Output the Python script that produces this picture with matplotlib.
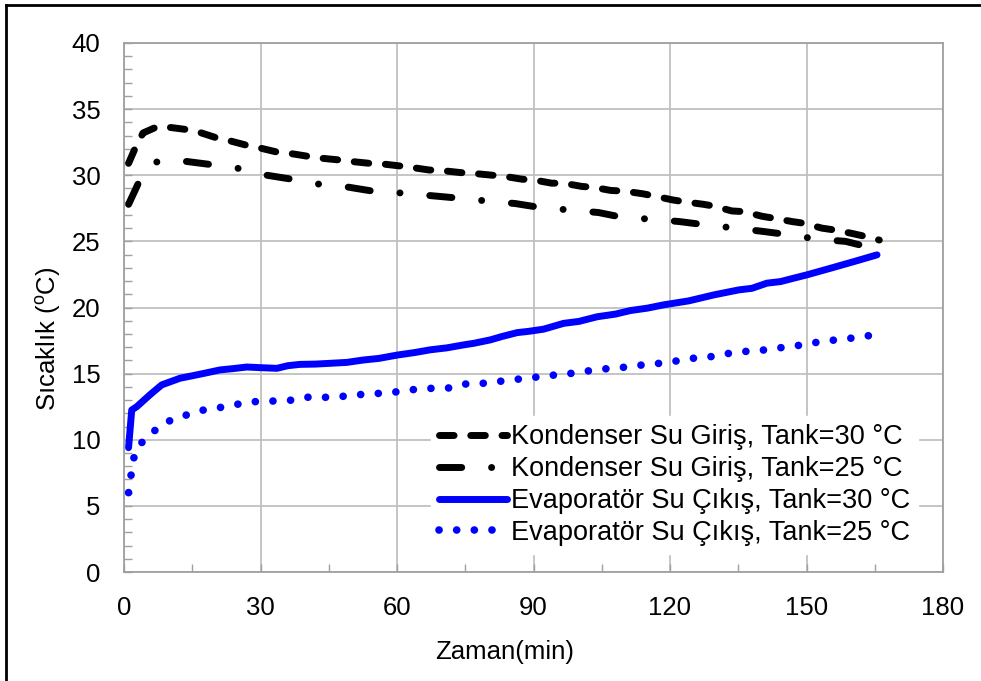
import matplotlib
matplotlib.use("Agg")
import matplotlib.pyplot as plt
from matplotlib.lines import Line2D
from matplotlib.ticker import MultipleLocator

plt.rcParams['font.family'] = ['Liberation Sans', 'DejaVu Sans']
plt.rcParams['mathtext.fontset'] = 'custom'
plt.rcParams['mathtext.rm'] = 'Liberation Sans'

# Kondenser su girişi, tank 30 C
t_kond30 = [1, 2.9, 4.2, 7.5, 10.5, 15, 17, 21.5, 23.3, 27.7, 30, 34.3, 36.5, 41, 43,
            47.5, 50, 54, 56.7, 60.7, 63, 67, 70, 74, 76.5, 81, 83, 87.5, 90, 94, 96.6,
            100.7, 103, 107, 110, 114, 116.4, 120.5, 123, 127.4, 129.6, 133.6, 136.2,
            140.2, 142.8, 146.8, 149.4, 153.4, 156, 160, 163, 166]
y_kond30 = [30.9, 32.4, 33.2, 33.7, 33.6, 33.4, 33.2, 32.7, 32.6, 32.2, 32.05, 31.7, 31.65,
            31.4, 31.3, 31.15, 31.04, 30.9, 30.86, 30.7, 30.6, 30.4, 30.35, 30.2, 30.15, 30.0,
            29.95, 29.7, 29.65, 29.4, 29.4, 29.15, 29.1, 28.85, 28.8, 28.6, 28.44, 28.14, 28.0,
            27.8, 27.67, 27.3, 27.25, 26.9, 26.75, 26.5, 26.37, 26.0, 25.87, 25.6, 25.37, 25.1]

# Kondenser su girişi, tank 25 C
t_kond25 = [1, 3.5, 6, 7.8, 13.8, 19.3, 25.5, 31.4, 36.9, 43.3, 49.3, 55.2, 61.4, 68, 73.5,
            79.6, 86, 91.5, 97.7, 104.3, 109.8, 115.9, 122, 127.8, 134.4, 140.5, 146.1,
            152.3, 158.6, 164]
y_kond25 = [27.8, 29.65, 30.8, 31.1, 31.04, 30.8, 30.5, 30.0, 29.7, 29.3, 29.1, 28.77, 28.65,
            28.44, 28.27, 28.06, 27.86, 27.56, 27.38, 27.18, 26.8, 26.68, 26.5, 26.25, 26.0,
            25.75, 25.5, 25.17, 25.0, 24.54]

# Evaporatör su çıkışı, tank 30 C
t_evap30 = [1, 1.7, 2.8, 5.7, 8.3, 12.3, 15.2, 18, 21.1, 24, 27, 30, 33.6, 36, 38.7, 42,
            45.3, 49, 52.6, 56, 60, 64, 67.3, 71, 74.6, 77, 80.5, 83, 86.4, 89, 92.2, 96.6,
            100, 104, 108, 111.3, 115, 118.6, 124.1, 129.6, 135.1, 138, 141.3, 144.3, 147,
            150.1, 155.3, 160.4, 165.5]
y_evap30 = [9.4, 12.25, 12.5, 13.4, 14.15, 14.65, 14.85, 15.05, 15.28, 15.38, 15.5, 15.45,
            15.4, 15.6, 15.7, 15.72, 15.78, 15.85, 16.03, 16.15, 16.4, 16.6, 16.8, 16.95,
            17.17, 17.3, 17.55, 17.8, 18.1, 18.2, 18.36, 18.8, 18.95, 19.3, 19.5, 19.77, 19.95,
            20.2, 20.5, 20.95, 21.33, 21.45, 21.84, 21.96, 22.2, 22.47, 22.97, 23.47, 23.98]

# Evaporatör su çıkışı, tank 25 C
t_evap25 = [1, 2.0, 2.6, 4.4, 7.3, 10.6, 14.3, 18, 22, 25.6, 29.5, 33.4, 37.2, 41.1, 45,
            48.7, 52.6, 56.7, 60.5, 64.2, 68.2, 72, 75.7, 79.5, 83.3, 87.1, 90.9, 94.8, 98.6,
            102.5, 106.3, 110.2, 114, 118, 121.9, 125.8, 129.5, 133.5, 137.2, 141.2, 145.1,
            149.1, 152.8, 156.4, 160.3, 164.3]
y_evap25 = [6.0, 8.4, 9.2, 10.0, 10.85, 11.55, 11.93, 12.3, 12.48, 12.73, 12.91, 12.93, 13.0,
            13.26, 13.2, 13.3, 13.44, 13.52, 13.64, 13.82, 13.9, 13.92, 14.27, 14.27, 14.45,
            14.6, 14.75, 14.9, 15.03, 15.23, 15.38, 15.49, 15.66, 15.79, 15.98, 16.2, 16.3,
            16.57, 16.7, 16.8, 17.0, 17.17, 17.4, 17.55, 17.7, 17.9]

labels = ['Kondenser Su Giriş, Tank=30 °C', 'Kondenser Su Giriş, Tank=25 °C',
          'Evaporatör Su Çıkış, Tank=30 °C', 'Evaporatör Su Çıkış, Tank=25 °C']

fig = plt.figure(figsize=(9.81, 6.81), dpi=100)
ax = fig.add_axes([124 / 981, 1 - 572 / 681, 819 / 981, 529 / 681])

ax.plot(t_kond30, y_kond30, color='black', lw=5, linestyle=(0, (2.1, 2.4)),
        dash_capstyle='round', solid_capstyle='round', label=labels[0])
ax.plot(t_kond25, y_kond25, color='black', lw=5, linestyle=(0, (3.2, 4.3, 0.01, 4.3)),
        dash_capstyle='round', solid_capstyle='round', label=labels[1])
ax.plot(t_evap30, y_evap30, color='#0000ff', lw=5, solid_capstyle='round',
        solid_joinstyle='round', label=labels[2])
ax.plot(t_evap25, y_evap25, color='#0000ff', lw=5.5, linestyle=(0, (0.01, 2.3)),
        dash_capstyle='round', label=labels[3])

ax.set_xlim(0, 180)
ax.set_ylim(0, 40)
ax.xaxis.set_major_locator(MultipleLocator(30))
ax.xaxis.set_minor_locator(MultipleLocator(15))
ax.yaxis.set_major_locator(MultipleLocator(5))
ax.yaxis.set_minor_locator(MultipleLocator(1))
ax.grid(True, which='major', color='#c0c0c0', lw=1.3)
ax.set_axisbelow(True)
for s in ax.spines.values():
    s.set_color('#a0a0a0')
    s.set_linewidth(1.3)
ax.tick_params(which='both', direction='in', color='#a0a0a0', width=1, labelsize=18.5)
ax.tick_params(which='major', length=6)
ax.tick_params(which='minor', length=6)
ax.tick_params(axis='x', pad=17)
ax.tick_params(axis='y', pad=17)

ax.set_xlabel('Zaman(min)', fontsize=18.5)
ax.xaxis.set_label_coords(0.465, -0.128)
ax.set_ylabel('Sıcaklık ($\\mathregular{^{o}}$C)', fontsize=18.5)
ax.yaxis.set_label_coords(-0.075, 0.44)

leg = ax.legend(loc='upper left', bbox_to_anchor=(0.375, 0.295), fontsize=19.5,
                frameon=True, framealpha=1, edgecolor='white', fancybox=False,
                handlelength=2.5, handletextpad=0.15, labelspacing=0.22,
                borderpad=0.3, borderaxespad=0)

# frame around the picture (left and top edges only visible)
fig.add_artist(Line2D([6 / 981, 6 / 981], [0, 1 - 5 / 681], color='black', lw=2,
                      transform=fig.transFigure))
fig.add_artist(Line2D([6 / 981, 1], [1 - 5 / 681, 1 - 5 / 681], color='black', lw=2,
                      transform=fig.transFigure))

fig.savefig('out.png', dpi=100)
